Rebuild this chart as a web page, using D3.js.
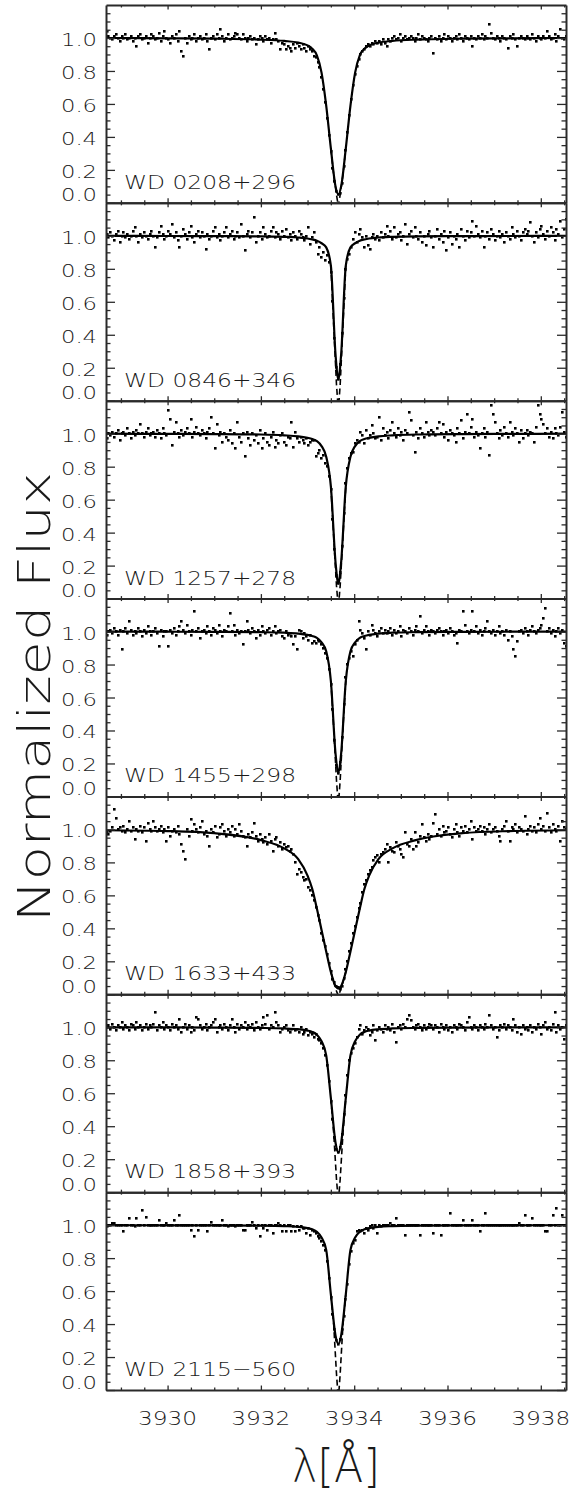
<!DOCTYPE html>
<html>
<head>
<meta charset="utf-8">
<script src="https://d3js.org/d3.v7.min.js"></script>
<style>
body { margin: 0; background: #fff; }
text { font-family: "DejaVu Sans ExtraLight", "DejaVu Sans", sans-serif; font-weight: 200; fill: #1a1a1a; }
.ax path, .ax line { stroke: #2a2a2a; }
</style>
</head>
<body>
<svg id="chart" width="576" height="1495"></svg>
<script>
// star names, one panel each
const names = ["WD 0208+296", "WD 0846+346", "WD 1257+278", "WD 1455+298",
               "WD 1633+433", "WD 1858+393", "WD 2115\u2212560"];

// observed spectra: flux x100 on a regular grid, start 3928.70 A, step 0.04 A
const waveStart = 3928.70, waveStep = 0.04;

const flux1 = [
 104,101,100,99,101,102,100,98,101,100,102,99,100,101,98,100,95,101,102,99,100,101,97,100,102,
 101,99,100,103,98,101,104,100,99,97,101,100,102,98,104,92,89,100,97,101,99,100,102,98,100,
 101,99,100,102,98,93,100,101,99,102,100,105,101,98,100,102,99,100,101,103,102,100,99,102,100,
 98,100,101,99,100,96,99,101,100,98,101,99,100,97,99,103,99,98,93,97,96,93,95,94,92,
 96,94,97,95,93,96,94,92,95,93,92,89,88,85,82,76,69,61,51,41,31,21,13,7,5,
 6,12,22,32,43,53,63,71,78,83,87,90,92,93,95,96,95,97,96,98,97,98,96,99,
 97,95,99,98,100,101,99,100,102,98,100,101,99,100,101,100,98,100,102,99,101,100,99,98,100,101,
 91,100,99,101,98,100,102,99,101,100,98,100,101,99,102,100,98,101,100,99,101,95,100,99,101,
 100,102,99,101,100,108,103,100,99,101,100,98,101,100,99,94,101,100,102,99,95,100,101,100,99,
 101,100,99,102,100,98,101,100,99,101,100,104,101,99,100,102,98,101,105,100,99,101];

const flux2 = [
 101,99,102,100,97,101,103,96,100,102,99,101,98,100,103,105,100,96,101,99,102,100,98,101,103,
 100,93,99,102,106,101,98,100,103,101,107,99,102,97,93,100,104,101,98,102,106,99,96,101,103,
 99,102,100,92,101,98,100,103,105,99,101,97,100,102,105,99,101,103,98,100,102,99,107,100,91,
 101,103,99,102,111,96,100,102,98,105,101,99,100,103,105,99,102,101,98,103,100,104,99,101,97,
 102,100,98,103,101,99,97,100,105,95,99,102,96,89,93,87,90,85,88,84,78,60,38,20,13,
 22,41,62,80,86,89,93,98,102,96,101,104,99,93,100,94,92,99,101,98,100,97,102,99,
 101,106,100,103,98,105,99,101,102,97,100,107,95,101,103,99,105,100,98,102,96,100,94,101,103,99,
 93,100,104,98,101,96,103,91,99,102,95,100,98,101,93,104,100,97,103,99,102,109,100,106,101,
 99,103,93,100,102,98,104,101,97,100,103,99,101,96,102,100,98,105,101,99,103,100,97,102,104,
 101,103,108,100,96,102,99,104,106,101,98,103,100,105,102,97,104,101,109,99,104,110];

const flux3 = [
 97,100,99,101,98,100,102,96,100,101,99,103,100,97,101,99,102,100,106,100,98,101,103,99,100,
 101,98,102,100,97,103,100,99,114,109,93,101,107,100,98,102,99,101,103,100,109,98,101,104,100,
 99,102,100,97,101,103,110,100,91,106,99,101,95,100,98,96,102,94,100,91,107,98,95,100,86,
 101,97,93,100,96,99,94,102,91,97,100,95,93,98,101,92,96,94,99,100,95,93,98,97,107,
 92,101,97,95,98,96,94,97,93,95,96,96,86,88,90,85,87,82,80,74,66,48,30,14,9,
 16,32,52,70,79,85,88,89,94,96,95,101,99,94,102,97,99,105,100,97,98,110,96,103,
 99,101,97,102,107,100,98,103,99,101,96,102,100,113,108,99,89,101,97,103,100,98,107,101,99,102,
 101,99,103,107,100,106,98,101,96,102,100,99,95,103,100,108,97,101,112,100,104,109,98,101,99,
 91,100,103,98,101,87,117,112,107,100,97,102,99,104,100,98,107,101,99,103,100,95,102,97,100,
 102,99,101,100,95,104,117,112,109,106,100,103,98,101,97,103,100,99,104,113,101,98];

const flux4 = [
 98,100,101,99,102,100,98,101,89,100,102,99,106,101,98,100,99,102,100,97,101,99,103,100,98,
 100,102,99,91,101,97,100,100,91,101,99,102,98,100,103,106,101,99,104,100,98,101,112,100,102,
 96,100,101,99,103,100,98,102,101,99,104,100,97,101,100,103,111,100,104,98,101,99,100,92,100,
 106,101,99,102,100,96,101,98,103,100,99,101,102,98,100,103,99,100,101,97,96,100,98,99,97,
 92,97,89,101,100,96,99,97,95,98,93,94,93,95,94,92,90,87,84,77,68,53,34,19,14,
 21,36,56,72,80,84,88,85,92,95,106,101,99,96,89,100,98,104,101,99,97,100,102,99,
 101,99,100,102,98,101,99,100,103,97,101,100,99,102,100,98,101,103,100,109,99,101,103,100,98,101,
 100,99,101,102,100,98,100,101,99,102,100,98,99,93,101,100,112,104,100,99,101,112,100,103,99,
 101,98,100,102,106,100,99,101,98,100,103,99,100,98,101,95,100,97,89,85,94,100,101,99,102,
 100,98,101,103,100,99,101,102,104,108,114,100,102,99,101,97,100,102,99,101,93,91];

const flux5 = [
 98,97,99,101,112,107,100,101,99,102,98,100,105,99,101,94,100,99,102,98,101,93,104,100,99,
 105,101,99,100,102,98,100,93,101,96,99,100,98,102,97,91,87,82,100,96,106,99,103,100,98,
 101,105,97,99,96,90,100,98,102,95,97,101,103,99,96,100,98,102,96,100,97,103,99,96,95,
 90,97,95,98,104,96,93,97,94,92,95,91,97,93,87,94,95,90,92,88,91,89,90,87,88,
 85,80,73,76,74,71,69,70,65,63,60,57,53,48,45,37,33,29,24,19,14,9,7,5,4,
 3,5,10,15,20,26,31,37,41,47,52,55,62,67,69,73,75,77,81,83,84,80,85,86,
 88,91,80,89,87,86,92,90,88,85,83,98,91,90,94,88,98,90,92,96,103,95,93,97,94,96,
 104,109,97,100,96,102,98,99,101,97,95,100,103,98,96,101,99,102,98,100,105,94,101,99,100,
 102,99,101,97,100,103,98,100,101,99,96,93,100,102,105,99,93,101,100,103,98,101,100,99,108,
 97,100,102,99,101,98,103,107,100,102,99,110,101,98,103,100,99,102,93,105,101,100];

const flux6 = [
 100,101,99,102,100,98,101,100,103,99,101,100,98,102,101,99,103,100,101,98,100,102,99,101,100,
 102,109,98,101,100,103,99,101,100,98,102,100,101,99,105,97,100,102,99,101,97,100,98,106,105,
 101,99,100,102,98,100,101,103,105,97,100,101,99,102,100,98,101,105,100,97,102,99,101,100,103,
 99,101,100,102,98,103,100,99,101,106,102,107,99,101,100,109,103,101,97,99,100,101,98,97,99,
 101,98,99,97,100,96,97,99,95,97,96,94,96,93,92,90,87,83,77,67,55,44,33,26,24,
 27,35,47,59,71,80,84,87,90,94,99,101,96,98,100,99,95,97,101,92,98,100,99,97,
 101,99,100,98,102,97,91,100,101,99,102,100,105,107,104,100,99,101,102,100,98,101,99,100,102,101,
 99,101,100,97,102,100,99,101,98,100,97,101,100,99,102,101,100,98,103,106,100,99,101,100,98,
 101,100,99,102,100,107,101,99,100,94,98,101,100,102,99,101,100,98,105,101,97,100,96,101,99,
 100,98,101,97,100,99,102,100,96,101,103,99,100,98,102,109,97,101,99,100,93,101];

const flux7 = [
 99,100,100,101,101,100,100,100,100,96,100,100,104,100,100,99,104,100,100,109,100,105,100,100,100,
 100,100,100,103,100,100,100,101,100,100,100,103,100,100,106,100,100,100,100,100,97,100,93,100,97,
 100,100,100,100,96,100,102,100,100,100,100,100,103,100,100,99,100,100,100,99,100,100,100,97,97,
 100,100,100,102,100,98,100,93,100,98,100,97,100,100,95,100,100,101,100,96,100,96,100,100,96,
 99,96,99,97,99,98,98,95,98,94,97,96,95,93,92,90,88,85,78,68,56,46,37,30,28,
 31,37,45,55,64,76,84,89,91,96,97,96,97,95,98,97,99,100,98,100,95,100,99,100,
 100,100,100,101,100,100,104,100,100,100,100,94,100,100,100,100,100,100,100,94,100,100,100,100,100,100,
 95,100,100,100,94,100,100,100,100,107,100,100,100,100,100,100,103,100,100,100,100,103,100,100,100,
 96,100,100,107,100,100,100,100,100,100,100,100,100,100,100,100,100,100,100,100,100,101,100,100,106,
 100,100,100,104,100,100,100,100,100,100,96,96,100,100,106,100,110,100,100,106,100,100];

// fitted profiles (solid)
const modelWave = [3928.68, 3930.0, 3931.0, 3932.0, 3932.5, 3932.8, 3933.0, 3933.1, 3933.2,
  3933.3, 3933.4, 3933.5, 3933.6, 3933.66, 3933.72, 3933.82, 3933.92, 3934.02, 3934.12,
  3934.22, 3934.32, 3934.52, 3934.82, 3935.32, 3936.32, 3937.32, 3938.54];
const model1 = [1.0,0.998,0.996,0.99,0.982,0.972,0.955,0.935,0.895,0.79,0.59,0.33,0.10,0.05,
  0.10,0.33,0.59,0.79,0.895,0.935,0.955,0.972,0.982,0.99,0.996,0.998,1.0];
const model2 = [1.0,0.999,0.998,0.997,0.994,0.99,0.984,0.978,0.97,0.955,0.93,0.82,0.28,0.13,
  0.28,0.82,0.93,0.955,0.97,0.978,0.984,0.99,0.994,0.997,0.998,0.999,1.0];
const model3 = [1.0,0.999,0.998,0.995,0.99,0.984,0.975,0.968,0.955,0.925,0.86,0.68,0.22,0.09,
  0.22,0.68,0.86,0.925,0.955,0.968,0.975,0.984,0.99,0.995,0.998,0.999,1.0];
const model4 = [1.0,0.999,0.998,0.996,0.993,0.988,0.98,0.973,0.962,0.935,0.88,0.70,0.26,0.14,
  0.26,0.70,0.88,0.935,0.962,0.973,0.98,0.988,0.993,0.996,0.998,0.999,1.0];
const model5 = [0.995,0.99,0.977,0.935,0.885,0.82,0.72,0.64,0.52,0.39,0.26,0.135,0.05,0.035,
  0.05,0.135,0.26,0.39,0.52,0.64,0.72,0.82,0.885,0.935,0.977,0.99,0.995];
const model6 = [1.0,0.999,0.998,0.996,0.993,0.988,0.98,0.972,0.955,0.915,0.83,0.57,0.30,0.24,
  0.30,0.57,0.83,0.915,0.955,0.972,0.98,0.988,0.993,0.996,0.998,0.999,1.0];
const model7 = [1.0,0.999,0.999,0.997,0.994,0.99,0.982,0.975,0.96,0.925,0.85,0.58,0.33,0.28,
  0.33,0.58,0.85,0.925,0.96,0.975,0.982,0.99,0.994,0.997,0.999,0.999,1.0];

// second profile (dashed), only differs in the core
const dashWave = [3933.50, 3933.56, 3933.62, 3933.66, 3933.70, 3933.76, 3933.82];
const dash1 = [0.33, 0.17, 0.05, -0.02, 0.05, 0.17, 0.33];
const dash2 = [0.82, 0.46, 0.10, -0.06, 0.10, 0.46, 0.82];
const dash3 = [0.68, 0.38, 0.08, -0.06, 0.08, 0.38, 0.68];
const dash4 = [0.70, 0.42, 0.10, -0.06, 0.10, 0.42, 0.70];
const dash5 = [0.135, 0.075, 0.02, -0.01, 0.02, 0.075, 0.135];
const dash6 = [0.57, 0.36, 0.08, -0.06, 0.08, 0.36, 0.57];
const dash7 = [0.58, 0.40, 0.10, -0.06, 0.10, 0.40, 0.58];

const xDomain = [3928.68, 3938.54];
const xTicks = [3930, 3932, 3934, 3936, 3938];
const xLabels = ["3930", "3932", "3934", "3936", "3938"];
const yTicks = [0.0, 0.2, 0.4, 0.6, 0.8, 1.0];
const yLabels = ["0.0", "0.2", "0.4", "0.6", "0.8", "1.0"];

const fluxes = [flux1, flux2, flux3, flux4, flux5, flux6, flux7];
const models = [model1, model2, model3, model4, model5, model6, model7];
const dashes = [dash1, dash2, dash3, dash4, dash5, dash6, dash7];

const svg = d3.select("#chart");
const plotL = 106, plotR = 566, plotT = 5, panelH = 197.86;

const x = d3.scaleLinear().domain(xDomain).range([plotL, plotR]);
const xMinor = d3.range(3929, 3938.6, 0.5).filter(v => v % 2 !== 0);
const yMinor = d3.range(0.05, 1.19, 0.05).filter(v => Math.abs(v * 5 - Math.round(v * 5)) > 1e-6);

names.forEach((name, p) => {
  const y0 = plotT + p * panelH;
  const y = d3.scaleLinear().domain([0, 1.2]).range([y0 + panelH, y0]);
  const g = svg.append("g");

  svg.append("clipPath").attr("id", "clip" + p)
    .append("rect").attr("x", plotL).attr("y", y0).attr("width", plotR - plotL).attr("height", panelH);

  const plot = g.append("g").attr("clip-path", "url(#clip" + p + ")");

  const pts = fluxes[p].map((f, i) => ({ w: waveStart + i * waveStep, f: f / 100 }));
  plot.selectAll("rect.pt").data(pts).join("rect").attr("class", "pt")
    .attr("x", d => Math.round(x(d.w) - 1.3)).attr("y", d => Math.round(y(d.f) - 1.3))
    .attr("width", 2.6).attr("height", 2.6).attr("fill", "#000");

  const line = d3.line().x(d => x(d[0])).y(d => y(d[1]));
  plot.append("path")
    .attr("d", line.curve(d3.curveMonotoneX)(modelWave.map((w, i) => [w, models[p][i]])))
    .attr("fill", "none").attr("stroke", "#000").attr("stroke-width", 2.2);
  plot.append("path")
    .attr("d", d3.line().x(d => x(d[0])).y(d => y(d[1]))(dashWave.map((w, i) => [w, dashes[p][i]])))
    .attr("fill", "none").attr("stroke", "#000").attr("stroke-width", 1.6)
    .attr("stroke-dasharray", "6,3.5");

  // frame and inward ticks
  const noLab = () => "";
  const ax = (axis, tx, ty, vals, size, domain) => {
    const a = g.append("g").attr("class", "ax").attr("transform", `translate(${tx},${ty})`)
      .call(axis.tickValues(vals).tickSize(-size).tickSizeOuter(0).tickFormat(noLab));
    a.selectAll("line").attr("stroke-width", 1.3);
    if (domain) a.select(".domain").attr("stroke-width", 2);
    else a.select(".domain").remove();
  };
  ax(d3.axisBottom(x), 0, y0 + panelH, xTicks, 4.5, true);
  ax(d3.axisBottom(x), 0, y0 + panelH, xMinor, 2.5, false);
  ax(d3.axisTop(x), 0, y0, xTicks, 4.5, true);
  ax(d3.axisTop(x), 0, y0, xMinor, 2.5, false);
  ax(d3.axisLeft(y), plotL, 0, yTicks, 9, true);
  ax(d3.axisLeft(y), plotL, 0, yMinor, 4.5, false);
  ax(d3.axisRight(y), plotR, 0, yTicks, 9, true);
  ax(d3.axisRight(y), plotR, 0, yMinor, 4.5, false);

  // y labels
  g.selectAll("text.yl").data(yTicks).join("text").attr("class", "yl")
    .attr("x", 97).attr("y", d => (d === 0 ? y(d) - 8 : y(d) + 1.5))
    .attr("text-anchor", "end").attr("dominant-baseline", "central")
    .attr("font-size", 18).attr("textLength", 36).attr("lengthAdjust", "spacingAndGlyphs")
    .text((d, i) => yLabels[i]);

  g.append("text").attr("x", 124).attr("y", y0 + panelH - 14)
    .attr("font-size", 19.5).attr("textLength", 172).attr("lengthAdjust", "spacingAndGlyphs")
    .text(name);

  if (p === names.length - 1) {
    g.selectAll("text.xl").data(xTicks).join("text").attr("class", "xl")
      .attr("x", d => x(d)).attr("y", y0 + panelH + 28)
      .attr("text-anchor", "middle").attr("dominant-baseline", "central")
      .attr("font-size", 20).attr("textLength", 59).attr("lengthAdjust", "spacingAndGlyphs")
      .text((d, i) => xLabels[i]);
  }
});

svg.append("text").attr("transform", "translate(50,697) rotate(-90)")
  .attr("text-anchor", "middle").attr("font-size", 45)
  .attr("textLength", 450).attr("lengthAdjust", "spacingAndGlyphs")
  .text("Normalized Flux");

svg.append("text").attr("x", 336).attr("y", 1482)
  .attr("text-anchor", "middle").attr("font-size", 46)
  .attr("textLength", 88).attr("lengthAdjust", "spacingAndGlyphs")
  .text("\u03bb[\u00c5]");
</script>
</body>
</html>
